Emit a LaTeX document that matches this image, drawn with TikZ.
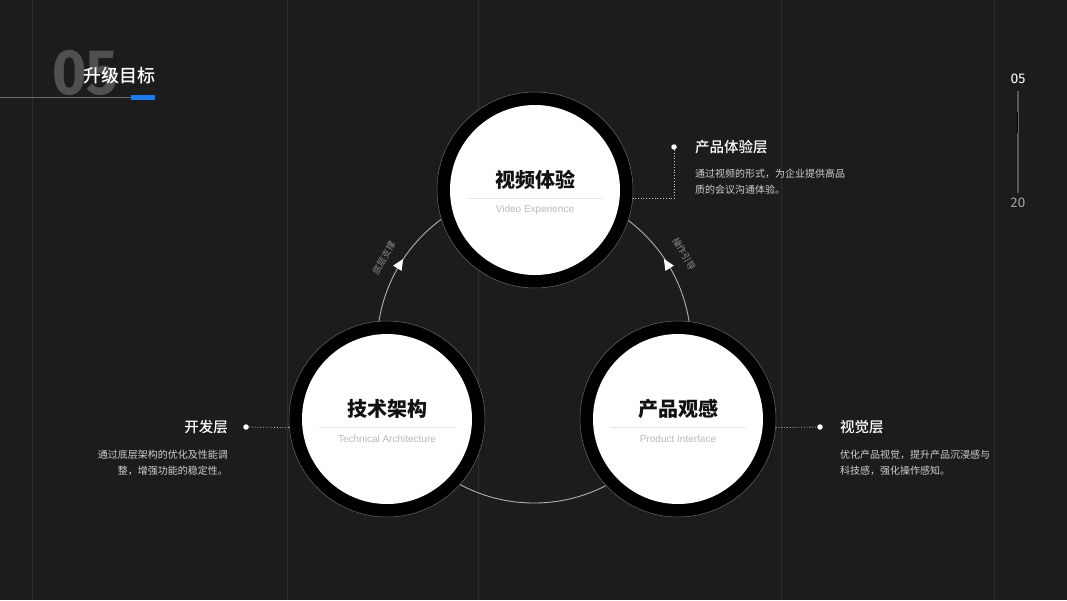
\documentclass[tikz,border=0pt]{standalone}
\usepackage{fontspec}
\setmainfont{Noto Sans CJK SC}
\newfontfamily\medfont{Noto Sans CJK SC Medium}
\newfontfamily\enfont{Liberation Sans}
\newfontfamily\numfont{Fira Sans}
\usetikzlibrary{calc}
\definecolor{bg}{HTML}{1C1C1C}
\definecolor{gridc}{HTML}{2C2C2C}
\definecolor{ringgray}{HTML}{6A6A6A}
\definecolor{arcc}{HTML}{B0B0B0}
\definecolor{titlec}{HTML}{111111}
\definecolor{subc}{HTML}{B9B9C4}
\definecolor{sepc}{HTML}{E8E8E8}
\definecolor{descc}{HTML}{CFCFCF}
\definecolor{labelc}{HTML}{8C8C8C}
\definecolor{bignumc}{HTML}{505050}
\definecolor{bluec}{HTML}{1A7CF0}
\definecolor{pagec}{HTML}{A0A0A0}
\tikzset{
  gridline/.style={draw=gridc, line width=0.8pt},
  ring/.style={circle, fill=black, draw=ringgray, line width=0.5pt, minimum size=196pt, inner sep=0pt},
  disc/.style={circle, fill=white, minimum size=170pt, inner sep=0pt},
  ctitle/.style={text=titlec, font=\fontsize{20}{24}\selectfont\bfseries, inner sep=0pt},
  csub/.style={text=subc, font=\enfont\fontsize{10}{12}\selectfont, inner sep=0pt},
  sepline/.style={draw=sepc, line width=1pt},
  arcline/.style={draw=arcc, line width=0.9pt},
  arrowtri/.style={fill=white},
  arclabel/.style={text=labelc, font=\fontsize{9}{10}\selectfont, inner sep=0pt},
  head/.style={text=white, font=\medfont\fontsize{14.5}{16}\selectfont, inner sep=0pt},
  desc/.style={text=descc, font=\fontsize{10}{12}\selectfont, inner sep=0pt},
  dotmark/.style={circle, fill=white, minimum size=5.5pt, inner sep=0pt},
  dotline/.style={draw=descc, line width=0.8pt, dotted},
}
\begin{document}
\begin{tikzpicture}[x=1pt,y=-1pt]
\useasboundingbox (0,0) rectangle (1067,600);
\fill[bg] (0,0) rectangle (1067,600);
% grid lines
\foreach \gx in {32,287,478,781,994} \draw[gridline] (\gx,0) -- (\gx,600);

% top-left title
\node[anchor=west, text=bignumc, font=\numfont\bfseries\fontsize{64}{66}\selectfont, inner sep=0pt, xscale=0.92] (bignum) at (52,73) {05};
\node[anchor=west, text=white, font=\medfont\fontsize{18}{20}\selectfont, inner sep=0pt] (ttl) at (83,76) {升级目标};
\draw[draw=ringgray, line width=0.8pt] (0,97) -- (131,97);
\fill[bluec] (131,95) rectangle (155,100);

% right page indicator
\node[text=white, font=\numfont\fontsize{14}{16}\selectfont, inner sep=0pt] (pg1) at (1018,79) {05};
\node[text=pagec, font=\numfont\fontsize{14}{16}\selectfont, inner sep=0pt] (pg2) at (1018,203) {20};
\draw[draw=gridc!80!white, line width=1.4pt] (pg1.south |- 0,91) -- (pg1.south |- 0,193);
\draw[draw=black, line width=1.4pt] (1017.3,112) -- (1017.3,133);
\draw[draw=ringgray, line width=1.2pt] (1018.6,112) -- (1018.6,133);

% big connecting circle
\draw[arcline] (534,346) circle[radius=157];

% circles
\node[ring] (topring) at (535,190) {};
\node[disc] (topdisc) at (535,190) {};
\node[ring] (leftring) at (387,419) {};
\node[disc] (leftdisc) at (387,419) {};
\node[ring] (rightring) at (678,419) {};
\node[disc] (rightdisc) at (678,419) {};

% circle texts
\node[ctitle] (t1) at (535,180) {视频体验};
\draw[sepline] (467,198) -- (603,198);
\node[csub] (s1) at (535,209.5) {Video Experience};
\node[ctitle] (t2) at (387,409) {技术架构};
\draw[sepline] (319,427) -- (455,427);
\node[csub] (s2) at (387,438.5) {Technical Architecture};
\node[ctitle] (t3) at (678,409) {产品观感};
\draw[sepline] (610,427) -- (746,427);
\node[csub] (s3) at (678,438.5) {Product Interface};

% arrowheads on arc
\fill[arrowtri, shift={(400,264)}, rotate=58] (6,0) -- (-5,-5) -- (-5,5) -- cycle;
\fill[arrowtri, shift={(667,264)}, rotate=122] (6,0) -- (-5,-5) -- (-5,5) -- cycle;

% arc labels
\node[arclabel, rotate=60] (al1) at (384,258) {底层支撑};
\node[arclabel, rotate=-60] (al2) at (684,254) {操作引导};

% top-right annotation
\node[dotmark] (d1) at (674,147) {};
\draw[dotline] (d1) |- (topring.-5);
\node[head, anchor=west] (h1) at (695,147) {产品体验层};
\node[desc, anchor=west] (p1a) at (695,174) {通过视频的形式，为企业提供高品};
\node[desc, anchor=west] (p1b) at (695,190) {质的会议沟通体验。};

% left annotation
\node[dotmark] (d2) at (246,427) {};
\draw[dotline] (d2) -- (leftring.185);
\node[head, anchor=east] (h2) at (228,427) {开发层};
\node[desc, anchor=east] (p2a) at (228,455) {通过底层架构的优化及性能调};
\node[desc, anchor=east] (p2b) at (228,471) {整，增强功能的稳定性。};

% right annotation
\node[dotmark] (d3) at (820,427) {};
\draw[dotline] (rightring.-5) -- (d3);
\node[head, anchor=west] (h3) at (840,427) {视觉层};
\node[desc, anchor=west] (p3a) at (840,455) {优化产品视觉，提升产品沉浸感与};
\node[desc, anchor=west] (p3b) at (840,471) {科技感，强化操作感知。};
\end{tikzpicture}
\end{document}
